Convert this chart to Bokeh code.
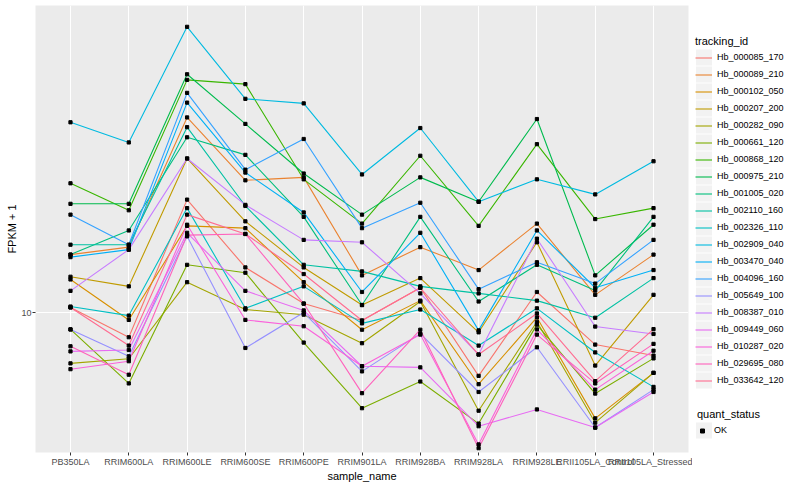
from bokeh.plotting import figure
from bokeh.layouts import row
from bokeh.models import Range1d, FixedTicker, Legend, LegendItem, ColumnDataSource, PrintfTickFormatter
from bokeh.embed import file_html
from bokeh.resources import INLINE

categories = ["PB350LA", "RRIM600LA", "RRIM600LE", "RRIM600SE", "RRIM600PE", "RRIM901LA",
              "RRIM928BA", "RRIM928LA", "RRIM928LE", "RRII105LA_Control", "RRII105LA_Stressed"]

tracking_ids = ["Hb_000085_170", "Hb_000089_210", "Hb_000102_050", "Hb_000207_200", "Hb_000282_090",
                "Hb_000661_120", "Hb_000868_120", "Hb_000975_210", "Hb_001005_020", "Hb_002110_160",
                "Hb_002326_110", "Hb_002909_040", "Hb_003470_040", "Hb_004096_160", "Hb_005649_100",
                "Hb_008387_010", "Hb_009449_060", "Hb_010287_020", "Hb_029695_080", "Hb_033642_120"]

colors = ["#F8766D", "#EA8331", "#D89000", "#C09B00", "#A3A500", "#7CAE00", "#39B600", "#00BB4E",
          "#00BF7D", "#00C1A3", "#00BFC4", "#00BAE0", "#00B0F6", "#35A2FF", "#9590FF", "#C77CFF",
          "#E76BF3", "#FA62DB", "#FF62BC", "#FF6C91"]

quant_status = ["OK"]

# FPKM + 1 values, one list per tracking_id, in category order
Hb_000085_170 = [10.17, 9.22, 14.5, 11.6, 10.3, 9.74, 10.85, 8.12, 10.7, 9.0, 8.68]
Hb_000089_210 = [12.1, 12.4, 19.0, 15.45, 15.6, 11.3, 12.4, 11.5, 13.4, 10.6, 12.1]
Hb_000102_050 = [11.15, 9.76, 13.3, 13.2, 11.05, 9.45, 10.4, 7.9, 9.84, 7.06, 8.2]
Hb_000207_200 = [11.25, 10.9, 16.6, 13.5, 11.6, 10.25, 11.2, 9.37, 12.6, 8.4, 10.6]
Hb_000282_090 = [8.46, 8.59, 11.05, 10.1, 9.93, 9.04, 10.37, 7.24, 9.7, 6.96, 8.2]
Hb_000661_120 = [9.46, 7.92, 11.7, 11.4, 9.06, 7.3, 7.97, 6.94, 9.61, 7.66, 8.6]
Hb_000868_120 = [15.3, 14.0, 21.5, 21.2, 15.5, 13.4, 16.75, 13.3, 17.4, 13.6, 14.1]
Hb_000975_210 = [14.3, 14.3, 21.9, 18.6, 15.8, 13.8, 15.6, 14.4, 18.9, 11.3, 13.35]
Hb_001005_020 = [12.1, 13.1, 17.8, 16.8, 13.7, 10.25, 13.7, 10.37, 11.7, 10.75, 13.7]
Hb_002110_160 = [12.5, 12.5, 18.4, 14.2, 11.7, 11.45, 10.9, 10.65, 10.4, 9.83, 11.2]
Hb_002326_110 = [10.2, 9.9, 14.1, 10.14, 10.9, 9.65, 10.1, 8.97, 10.14, 8.77, 7.83]
Hb_002909_040 = [18.7, 17.5, 25.6, 20.2, 19.9, 15.75, 18.35, 14.4, 15.5, 14.75, 16.45]
Hb_003470_040 = [12.0, 12.3, 19.95, 15.85, 13.9, 10.7, 13.0, 9.43, 13.1, 10.85, 11.5]
Hb_004096_160 = [13.8, 12.5, 20.6, 16.0, 17.7, 13.2, 14.35, 10.8, 11.8, 11.0, 12.7]
Hb_005649_100 = [9.46, 8.66, 12.85, 8.9, 10.0, 8.24, 9.33, 7.7, 8.92, 6.85, 7.76]
Hb_008387_010 = [10.74, 12.3, 16.6, 14.25, 12.7, 12.6, 10.65, 8.71, 12.75, 9.55, 9.32]
Hb_009449_060 = [8.8, 8.84, 13.0, 10.74, 10.07, 8.38, 8.35, 6.88, 7.27, 6.85, 7.7]
Hb_010287_020 = [8.3, 8.52, 13.35, 9.76, 9.56, 8.38, 9.3, 6.48, 9.46, 7.76, 8.82]
Hb_029695_080 = [8.95, 8.15, 12.9, 12.95, 10.3, 7.67, 9.45, 6.4, 9.3, 7.92, 9.02]
Hb_033642_120 = [10.17, 8.97, 13.8, 12.95, 11.35, 9.74, 10.85, 8.71, 9.97, 7.98, 9.47]

series = [Hb_000085_170, Hb_000089_210, Hb_000102_050, Hb_000207_200, Hb_000282_090,
          Hb_000661_120, Hb_000868_120, Hb_000975_210, Hb_001005_020, Hb_002110_160,
          Hb_002326_110, Hb_002909_040, Hb_003470_040, Hb_004096_160, Hb_005649_100,
          Hb_008387_010, Hb_009449_060, Hb_010287_020, Hb_029695_080, Hb_033642_120]

y_ticks = [10]
y_low, y_high = 6.31, 27.46

FONT = "Liberation Sans"
positions = list(range(1, len(categories) + 1))

px, py = [], []
for vals in series:
    px.extend(positions)
    py.extend(vals)
points = dict(x=px, y=py)

# ---------------- main plot ----------------
p = figure(width=692, height=484, output_backend="svg", toolbar_location=None,
           x_range=Range1d(0.4, len(categories) + 0.6), y_range=Range1d(y_low, y_high),
           y_axis_type="log", min_border_left=35, min_border_right=4,
           min_border_top=5, min_border_bottom=20)
p.background_fill_color = "#EBEBEB"
p.border_fill_color = "white"
p.outline_line_color = None

p.xaxis.ticker = FixedTicker(ticks=positions, minor_ticks=[])
p.xaxis.major_label_overrides = {pos: c for pos, c in zip(positions, categories)}
p.yaxis.ticker = FixedTicker(ticks=y_ticks, minor_ticks=[])
p.yaxis.formatter = PrintfTickFormatter(format="%d")
for ax in (p.xaxis[0], p.yaxis[0]):
    ax.axis_line_color = None
    ax.major_tick_line_color = "#333333"
    ax.major_tick_out = 3
    ax.major_tick_in = 0
    ax.minor_tick_line_color = None
    ax.major_label_text_font = FONT
    ax.major_label_text_font_size = "9px"
    ax.major_label_text_color = "#4D4D4D"
    ax.major_label_standoff = 1
    ax.axis_label_text_font = FONT
    ax.axis_label_text_font_size = "11px"
    ax.axis_label_text_font_style = "normal"
    ax.axis_label_text_color = "black"
    ax.axis_label_standoff = 0
p.xaxis.axis_label = "sample_name"
p.yaxis.axis_label = "FPKM + 1"

p.xgrid.ticker = FixedTicker(ticks=positions, minor_ticks=[])
p.ygrid.ticker = FixedTicker(ticks=y_ticks, minor_ticks=[])
for g in (p.xgrid[0], p.ygrid[0]):
    g.grid_line_color = "white"
    g.grid_line_width = 1.1
    g.minor_grid_line_color = None

for col, vals in zip(colors, series):
    p.line(positions, vals, line_color=col, line_width=1.1)

p.scatter(x="x", y="y", source=ColumnDataSource(points),
          marker="square", size=3.2, fill_color="black", line_color="black")

# ---------------- legend panel ----------------
# Its frame is aligned with the main frame (top 5 px, bottom ~452 px).
# Ranges are page pixels shifted by OFF so that the proxy series stay far out of view.
LW = 92
OFF = 1000
FRAME_TOP, FRAME_BOTTOM = 5, 452
lf = figure(width=LW, height=484, output_backend="svg", toolbar_location=None,
            x_range=Range1d(-LW - OFF, -OFF), y_range=Range1d(FRAME_BOTTOM + OFF, FRAME_TOP + OFF),
            min_border=0, x_axis_location=None, y_axis_location=None)
lf.xgrid.visible = False
lf.ygrid.visible = False
lf.outline_line_color = None
lf.background_fill_color = "white"
lf.border_fill_color = "white"

ROW = 17
first_row_top = 48.5
n = len(tracking_ids)
key_x = 703.5 - 784 - OFF
key_y = [OFF + first_row_top + ROW * (k + 0.5) for k in range(n)]
lf.rect(x=[key_x] * n, y=key_y, width=16, height=16, fill_color="#F2F2F2", line_color=None)
ok_row_top = 421.5
lf.rect(x=[key_x], y=[OFF + ok_row_top + ROW / 2], width=16, height=16,
        fill_color="#F2F2F2", line_color=None)

# legend proxies: the same series, lying far outside this panel's visible range
items = []
for tid, col, vals in zip(tracking_ids, colors, series):
    r = lf.line(positions, vals, line_color=col, line_width=1.1)
    items.append(LegendItem(label=tid, renderers=[r]))
ok_r = lf.scatter(x="x", y="y", source=ColumnDataSource(points), marker="square", size=3.2,
                  fill_color="black", line_color="black")

common = dict(padding=0, margin=0, spacing=0, border_line_alpha=0, background_fill_alpha=0,
              label_text_font=FONT, label_text_font_size="9px", label_text_color="black",
              title_text_font=FONT, title_text_font_size="11px", title_text_font_style="normal",
              title_text_color="black", title_standoff=2)

leg1 = Legend(items=items, title="tracking_id",
              location=(3, FRAME_BOTTOM - (first_row_top + ROW * n)),
              glyph_width=17, glyph_height=ROW, label_height=ROW, label_standoff=5, **common)
lf.add_layout(leg1)

leg2 = Legend(items=[LegendItem(label=quant_status[0], renderers=[ok_r])], title="quant_status",
              location=(5, FRAME_BOTTOM - (ok_row_top + ROW)), glyph_width=10, glyph_height=ROW,
              label_height=ROW, label_standoff=7, **common)
lf.add_layout(leg2)

open("out.html", "w").write(file_html(row(p, lf), INLINE))
